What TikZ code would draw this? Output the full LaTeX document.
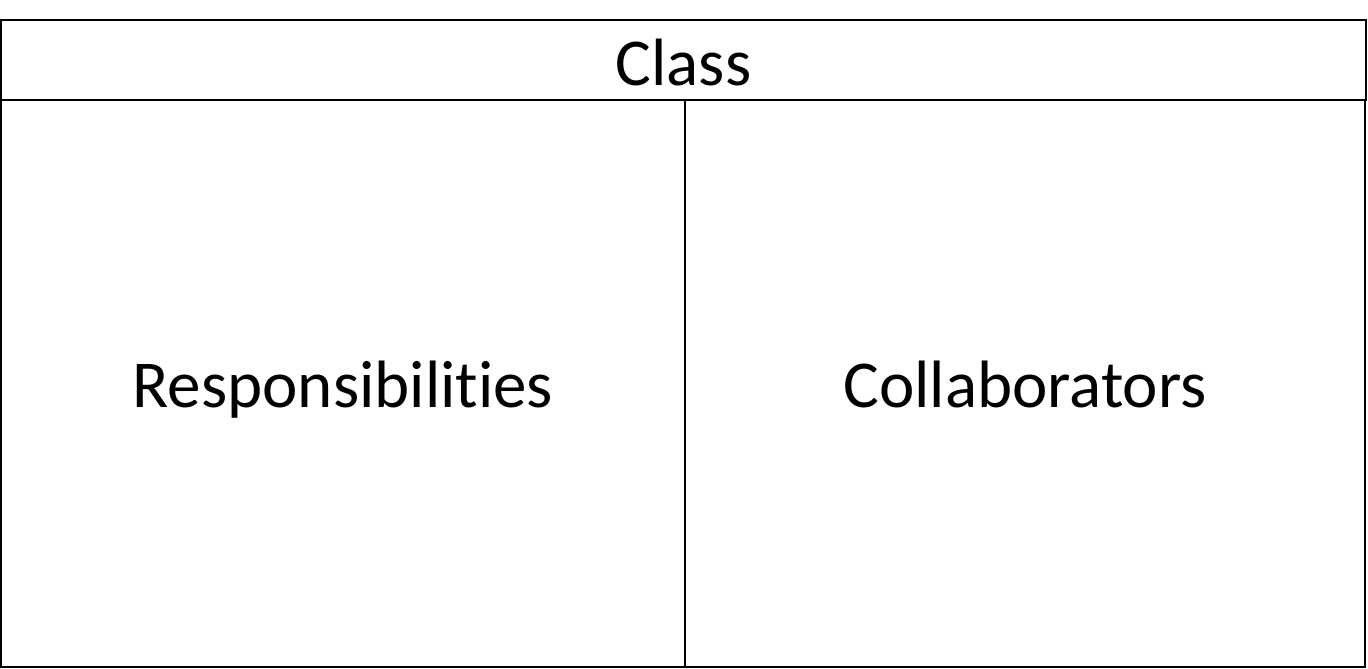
\documentclass[tikz,border=0pt]{standalone}
\usepackage{fontspec}
\setmainfont[Ligatures={NoCommon,NoDiscretionary,NoContextual}]{Carlito}
\begin{document}
\begin{tikzpicture}[x=1pt,y=-1pt,
  cell/.style={draw=black,line width=2pt,inner sep=0pt,outer sep=0pt},
  label/.style={inner sep=0pt,anchor=base,font=\fontsize{67}{80}\selectfont}]
\useasboundingbox (0,0) rectangle (1368,669);
\node[cell,minimum width=1365pt,minimum height=80pt] (title) at (683.5,60) {};
\node[cell,minimum width=684pt,minimum height=567pt] (resp) at (343,383.5) {};
\node[cell,minimum width=680pt,minimum height=567pt] (coll) at (1025,383.5) {};
\node[label] (tclass) at (683.5,85) {Class};
\node[label] (tresp) at (343,407) {Responsibilities};
\node[label] (tcoll) at (1025,407) {Collaborators};
\end{tikzpicture}
\end{document}
